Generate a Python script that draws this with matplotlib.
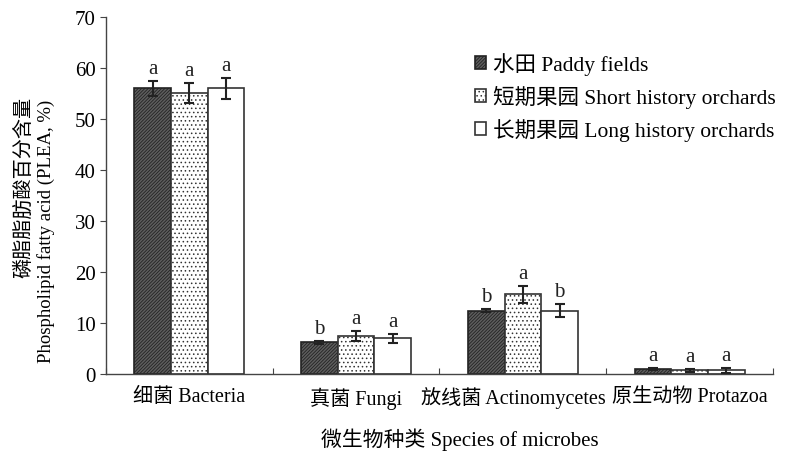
import numpy as np
import matplotlib
matplotlib.use("Agg")
import matplotlib.pyplot as plt
import matplotlib.transforms as mtransforms
from matplotlib.patches import Patch

plt.rcParams["font.family"] = ["Liberation Serif", "Noto Sans CJK SC"]
plt.rcParams["hatch.linewidth"] = 0.6

categories = ["细菌 Bacteria", "真菌 Fungi", "放线菌 Actinomycetes", "原生动物 Protazoa"]
series = ["水田 Paddy fields", "短期果园 Short history orchards", "长期果园 Long history orchards"]

paddy = [56.0, 6.2, 12.4, 1.0]
short_hist = [55.1, 7.5, 15.6, 0.7]
long_hist = [56.0, 7.0, 12.4, 0.7]

paddy_err = [1.5, 0.3, 0.3, 0.2]
short_err = [2.0, 1.0, 1.6, 0.3]
long_err = [2.0, 0.9, 1.3, 0.5]

paddy_sig = ["a", "b", "b", "a"]
short_sig = ["a", "a", "a", "a"]
long_sig = ["a", "a", "b", "a"]

fig = plt.figure(figsize=(7.94, 4.56), dpi=100)
ax = fig.add_axes([0.1335, 0.1776, 0.84, 0.783])

x = np.arange(len(categories)) + 0.5
w = 0.22
styles = [
    dict(facecolor="#5e5e5e", hatch="//////////", edgecolor="#222222"),
    dict(facecolor="white", hatch="....", edgecolor="#333333"),
    dict(facecolor="white", hatch="", edgecolor="#333333"),
]
data = [(paddy, paddy_err, paddy_sig), (short_hist, short_err, short_sig), (long_hist, long_err, long_sig)]

handles = []
for i, ((vals, errs, sig), st) in enumerate(zip(data, styles)):
    pos = x + (i - 1) * w
    ax.bar(pos, vals, width=w, linewidth=1.2, **st, zorder=2)
    ax.errorbar(pos, vals, yerr=errs, fmt="none", ecolor="#222222",
                elinewidth=1.5, capsize=3.5, capthick=1.5, zorder=3)
    for p, v, e, s in zip(pos, vals, errs, sig):
        ax.text(p, v + e + 0.6, s, ha="center", va="bottom", fontsize=15, color="#222222")
    handles.append(Patch(linewidth=1.2, label=series[i], **st))

ax.set_xlim(0, len(categories))
ax.set_ylim(0, 70)
ax.set_yticks(np.arange(0, 71, 10))
ax.set_xticks(np.arange(0, len(categories) + 1), minor=False)
ax.set_xticklabels([])
ax.set_xticks(x, minor=True)
ax.set_xticklabels(categories, minor=True, fontsize=14.5)
ax.tick_params(axis="x", which="major", direction="in", length=4, color="#444444")
ax.tick_params(axis="x", which="minor", length=0, pad=9)
ax.tick_params(axis="y", direction="out", length=4, labelsize=15, color="#444444")

# nudge the long Actinomycetes label so it clears its neighbour
lbl = ax.get_xticklabels(minor=True)[2]
lbl.set_transform(lbl.get_transform() + mtransforms.ScaledTranslation(-0.09, 0, fig.dpi_scale_trans))

for side in ["top", "right"]:
    ax.spines[side].set_visible(False)
for side in ["left", "bottom"]:
    ax.spines[side].set_color("#444444")
    ax.spines[side].set_linewidth(1.0)

# two-line y label, both lines end at the same height
fig.text(25 / 794, 1 - 97 / 456, "磷脂脂肪酸百分含量", rotation=90,
         ha="center", va="top", fontsize=14.5)
fig.text(46 / 794, 1 - 100 / 456, "Phospholipid fatty acid (PLEA, %)", rotation=90,
         ha="center", va="top", fontsize=13.5)
fig.text(460 / 794, 1 - 440 / 456, "微生物种类 Species of microbes",
         ha="center", va="center", fontsize=15)

ax.legend(handles=handles, loc="upper right", bbox_to_anchor=(1.033, 0.955), frameon=False,
          fontsize=15.5, handlelength=0.55, handleheight=0.55, handletextpad=0.3,
          labelspacing=0.45)

fig.savefig("out.png", dpi=100)
